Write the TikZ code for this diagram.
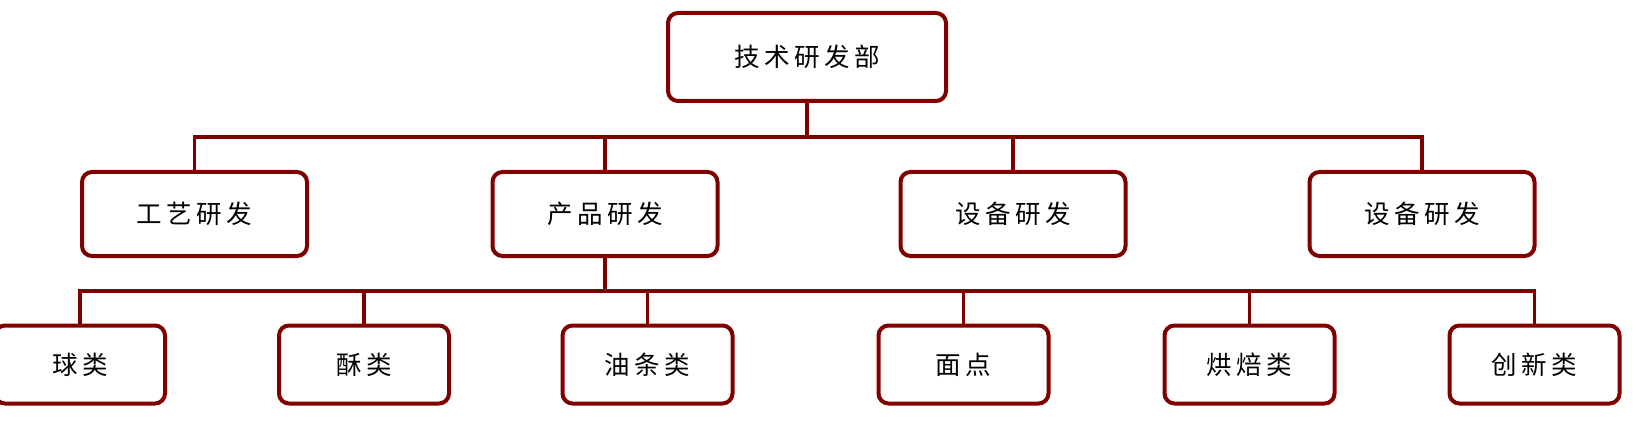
\documentclass[tikz,border=0pt]{standalone}
\usepackage{fontspec}
\usepackage{xcolor}
\usetikzlibrary{calc}
\newfontfamily\cjk[LetterSpace=18]{Noto Sans CJK SC}
\definecolor{deptRed}{RGB}{128,0,0}
\tikzset{
  orgBox/.style={rounded corners=10pt,draw=deptRed,fill=white,line width=4pt,
    inner sep=0pt,font=\cjk\fontsize{25.5}{25.5}\selectfont,text=black},
  link/.style={draw=deptRed,line width=3.5pt}
}

\begin{document}
\begin{tikzpicture}[x=1pt,y=-1pt]
\useasboundingbox (0,0) rectangle (1638,422);
\node[orgBox,minimum width=278pt,minimum height=88pt] (dept) at (807,57) {技术研发部};
% second row
\foreach \x/\t [count=\i] in {194.5/工艺研发,605/产品研发,1013/设备研发,1422/设备研发}{
  \node[orgBox,minimum width=225pt,minimum height=84pt] (sub\i) at (\x,214) {\t};
  \draw[link] (dept.south) -- ++(0,34) -| (sub\i.north);
}
% third row, under sub2
\foreach \x/\t [count=\i] in {80/球类,364/酥类,647.5/油条类,963.5/面点,1249.5/烘焙类,1534.5/创新类}{
  \node[orgBox,minimum width=170pt,minimum height=78pt] (grp\i) at (\x,364.5) {\t};
  \draw[link] (sub2.south) -- ++(0,33) -| (grp\i.north);
}
\end{tikzpicture}
\end{document}
